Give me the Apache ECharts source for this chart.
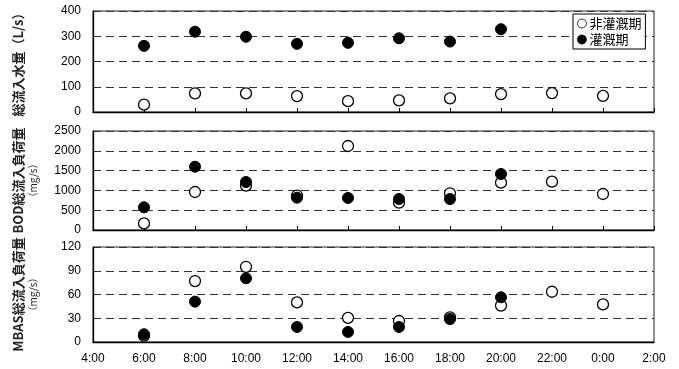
<!DOCTYPE html>
<html><head><meta charset="utf-8">
<script src="https://cdn.jsdelivr.net/npm/echarts@6/dist/echarts.min.js"></script>
<style>html,body{margin:0;padding:0;background:#fff}#c{width:679px;height:369px}</style>
</head><body><div id="c"></div>
<script>
// Time of day (hours; 24 = 0:00 next day)
const hoursNon = [6, 8, 10, 12, 14, 16, 18, 20, 22, 24];
const hoursIrr = [6, 8, 10, 12, 14, 16, 18, 20];
const xTickHours = [4, 6, 8, 10, 12, 14, 16, 18, 20, 22, 24, 26];

// Panel 1: 総流入水量 (L/s)
const flowNon = [29, 74, 74, 63, 43, 46, 54, 71, 75, 64];
const flowIrr = [262, 318, 298, 270, 274, 292, 279, 328];
// Panel 2: BOD総流入負荷量 (mg/s)
const bodNon = [169, 960, 1120, 870, 2121, 690, 927, 1195, 1220, 909];
const bodIrr = [573, 1598, 1212, 816, 810, 783, 783, 1414];
// Panel 3: MBAS総流入負荷量 (mg/s)
const mbasNon = [8, 77, 95, 50, 30.5, 26.5, 31, 46, 63.5, 47.5];
const mbasIrr = [9.8, 51, 80.5, 19, 12.7, 19, 29, 56.5];

const names = ['非灌漑期', '灌漑期'];
const yNames = ['{a|総流入水量（L/s）}', '{a|BOD総流入負荷量}\n{b|（mg/s）}', '{a|MBAS総流入負荷量}\n{b|（mg/s）}'];
const yMax = [400, 2500, 120];
const yInt = [100, 500, 30];

const pair = (xs, ys) => xs.map((x, i) => [x, ys[i]]);
const dataNon = [flowNon, bodNon, mbasNon];
const dataIrr = [flowIrr, bodIrr, mbasIrr];

const FONT = '"Liberation Sans", Arial, sans-serif';
const JFONT = '"Noto Sans CJK JP", sans-serif';

const grids = [
  {left: 93, width: 561, top: 11, height: 101},
  {left: 93, width: 561, top: 131, height: 99},
  {left: 93, width: 561, top: 247, height: 95}
].map(g => Object.assign(g, {show: true, borderColor: '#222', borderWidth: 1, backgroundColor: 'transparent'}));

const xAxes = [0, 1, 2].map(i => ({
  type: 'value', gridIndex: i, min: xTickHours[0], max: xTickHours[xTickHours.length - 1], interval: 2,
  axisLine: {show: true, lineStyle: {color: '#000', width: 1.3}},
  axisTick: {show: i < 2, inside: true, length: 4, lineStyle: {color: '#000'}},
  splitLine: {show: false},
  axisLabel: {show: i === 2, margin: 11, color: '#000', fontSize: 12, fontFamily: FONT,
    formatter: v => (v % 24) + ':00'}
}));

const yAxes = [0, 1, 2].map(i => ({
  type: 'value', gridIndex: i, min: 0, max: yMax[i], interval: yInt[i],
  name: yNames[i], nameLocation: 'middle', nameRotate: 90,
  nameGap: i === 0 ? 67 : 53,
  nameTextStyle: {
    color: '#000',
    rich: {
      a: {fontFamily: JFONT, fontSize: 13, fontWeight: 'bold', color: '#222', lineHeight: 16},
      b: {fontFamily: JFONT, fontSize: 10, color: '#222', lineHeight: 14}
    }
  },
  axisLine: {show: true, lineStyle: {color: '#000', width: 1.3}},
  axisTick: {show: false},
  axisLabel: {margin: 12, color: '#000', fontSize: 12, fontFamily: FONT, formatter: v => String(v)},
  splitLine: {show: true, lineStyle: {color: '#333', type: [8, 5], width: 1}}
}));

const series = [];
[0, 1, 2].forEach(i => {
  series.push({
    name: names[0], type: 'scatter', xAxisIndex: i, yAxisIndex: i,
    data: pair(hoursNon, dataNon[i]), symbol: 'circle', symbolSize: 11, z: 2,
    itemStyle: {color: '#fff', borderColor: '#000', borderWidth: 1.3, opacity: 1}
  });
  series.push({
    name: names[1], type: 'scatter', xAxisIndex: i, yAxisIndex: i,
    data: pair(hoursIrr, dataIrr[i]), symbol: 'circle', symbolSize: 11, z: 3,
    itemStyle: {color: '#000', borderColor: '#000', borderWidth: 1, opacity: 1}
  });
});

const chart = echarts.init(document.getElementById('c'), null, {renderer: 'canvas'});
chart.setOption({
  animation: false,
  backgroundColor: '#fff',
  grid: grids, xAxis: xAxes, yAxis: yAxes, series: series,
  legend: {
    data: names, orient: 'vertical', left: 573, top: 14,
    backgroundColor: '#fff', borderColor: '#000', borderWidth: 1,
    padding: [3, 4, 3, 4], itemGap: 3, itemWidth: 9, itemHeight: 9,
    icon: 'circle',
    itemStyle: {opacity: 1, borderWidth: 0.8},
    textStyle: {fontFamily: JFONT, fontSize: 13, color: '#000', padding: [0, 0, 0, -2]}
  }
});
</script></body></html>
